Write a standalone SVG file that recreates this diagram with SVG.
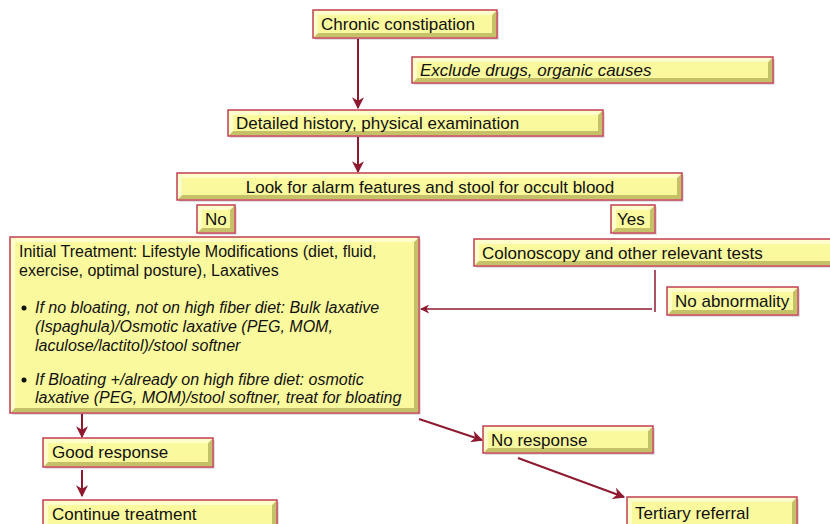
<svg xmlns="http://www.w3.org/2000/svg" width="830" height="524" viewBox="0 0 830 524">
<defs>
<style>
.sh{fill:#000;opacity:0.12}
.bx{fill:#fbf99e;stroke:#c23e58;stroke-width:1.5}
.bv{fill:#b3ae55;opacity:0.75}
.hl{fill:#ffffd8;opacity:0.8}
.t{font-family:"Liberation Sans",Arial,sans-serif;font-size:17px;fill:#111}
.s{font-size:16px}
.i{font-style:italic}
.c{stroke:#8e1a30;stroke-width:2;fill:none}
</style>
<marker id="ah" viewBox="0 0 10 10" refX="9" refY="5" markerWidth="6" markerHeight="6" orient="auto" markerUnits="strokeWidth">
<path d="M0,0 L10,5 L0,10 L3,5 Z" fill="#8e1a30"/>
</marker>
</defs>
<rect width="830" height="524" fill="#fff"/>

<g id="connectors">
<line class="c" x1="358" y1="39" x2="358" y2="108" marker-end="url(#ah)"/>
<line class="c" x1="358" y1="137" x2="358" y2="172" marker-end="url(#ah)"/>
<line class="c" x1="655" y1="270" x2="655" y2="312" style="stroke-width:1.5"/>
<line class="c" x1="652" y1="309" x2="421" y2="309" style="stroke-width:1.5" marker-end="url(#ah)"/>
<line class="c" x1="82" y1="414" x2="82" y2="437" marker-end="url(#ah)"/>
<line class="c" x1="82" y1="470" x2="82" y2="496" marker-end="url(#ah)"/>
<line class="c" x1="419" y1="419" x2="482" y2="440" marker-end="url(#ah)"/>
<line class="c" x1="518" y1="458" x2="624" y2="497" marker-end="url(#ah)"/>
</g>

<g id="n1">
<rect class="sh" x="315" y="12" width="184" height="28"/>
<rect class="bx" x="313" y="10" width="184" height="28"/>
<polygon class="bv" points="496,11 496,37 314,37 318,33 492,33 492,15"/>
<polygon class="hl" points="314,11 496,11 492,15 318,15 318,33 314,37"/>
<text class="t" x="321" y="30">Chronic constipation</text>
</g>

<g id="n2">
<rect class="sh" x="414" y="59" width="361" height="26"/>
<rect class="bx" x="412" y="57" width="361" height="26"/>
<polygon class="bv" points="772,58 772,82 413,82 417,78 768,78 768,62"/>
<polygon class="hl" points="413,58 772,58 768,62 417,62 417,78 413,82"/>
<text class="t i" x="420" y="76">Exclude drugs, organic causes</text>
</g>

<g id="n3">
<rect class="sh" x="230" y="112" width="375" height="26"/>
<rect class="bx" x="228" y="110" width="375" height="26"/>
<polygon class="bv" points="602,111 602,135 229,135 233,131 598,131 598,115"/>
<polygon class="hl" points="229,111 602,111 598,115 233,115 233,131 229,135"/>
<text class="t" x="236" y="129">Detailed history, physical examination</text>
</g>

<g id="n4">
<rect class="sh" x="179" y="175" width="505" height="27"/>
<rect class="bx" x="177" y="173" width="505" height="27"/>
<polygon class="bv" points="681,174 681,199 178,199 182,195 677,195 677,178"/>
<polygon class="hl" points="178,174 681,174 677,178 182,178 182,195 178,199"/>
<text class="t" x="430" y="193" text-anchor="middle">Look for alarm features and stool for occult blood</text>
</g>

<g id="n5">
<rect class="sh" x="199" y="207" width="38" height="28"/>
<rect class="bx" x="197" y="205" width="38" height="28"/>
<polygon class="bv" points="234,206 234,232 198,232 202,228 230,228 230,210"/>
<polygon class="hl" points="198,206 234,206 230,210 202,210 202,228 198,232"/>
<text class="t" x="205" y="225">No</text>
</g>

<g id="n6">
<rect class="sh" x="613" y="207" width="44" height="28"/>
<rect class="bx" x="611" y="205" width="44" height="28"/>
<polygon class="bv" points="654,206 654,232 612,232 616,228 650,228 650,210"/>
<polygon class="hl" points="612,206 654,206 650,210 616,210 616,228 612,232"/>
<text class="t" x="617" y="225">Yes</text>
</g>

<g id="n7">
<rect class="sh" x="12" y="239" width="409" height="176"/>
<rect class="bx" x="10" y="237" width="409" height="176"/>
<polygon class="bv" points="418,238 418,412 11,412 15,408 414,408 414,242"/>
<polygon class="hl" points="11,238 418,238 414,242 15,242 15,408 11,412"/>
<text class="t s" x="19" y="257">Initial Treatment: Lifestyle Modifications (diet, fluid,</text>
<text class="t s" x="19" y="276">exercise, optimal posture), Laxatives</text>
<circle cx="24" cy="308" r="2.5" fill="#111"/>
<text class="t s i" x="35" y="313">If no bloating, not on high fiber diet: Bulk laxative</text>
<text class="t s i" x="35" y="332">(Ispaghula)/Osmotic laxative (PEG, MOM,</text>
<text class="t s i" x="35" y="351">laculose/lactitol)/stool softner</text>
<circle cx="24" cy="380" r="2.5" fill="#111"/>
<text class="t s i" x="35" y="385">If Bloating +/already on high fibre diet: osmotic</text>
<text class="t s i" x="35" y="403">laxative (PEG, MOM)/stool softner, treat for bloating</text>
</g>

<g id="n8">
<rect class="sh" x="476" y="241" width="360" height="27"/>
<rect class="bx" x="474" y="239" width="360" height="27"/>
<polygon class="hl" points="475,240 833,240 833,244 479,244 479,261 475,265"/>
<polygon class="bv" points="475,265 479,261 833,261 833,265"/>
<text class="t" x="482" y="259">Colonoscopy and other relevant tests</text>
</g>

<g id="n9">
<rect class="sh" x="669" y="289" width="131" height="28"/>
<rect class="bx" x="667" y="287" width="131" height="28"/>
<polygon class="bv" points="797,288 797,314 668,314 672,310 793,310 793,292"/>
<polygon class="hl" points="668,288 797,288 793,292 672,292 672,310 668,314"/>
<text class="t" x="675" y="307">No abnormality</text>
</g>

<g id="n10">
<rect class="sh" x="45" y="440" width="170" height="29"/>
<rect class="bx" x="43" y="438" width="170" height="29"/>
<polygon class="bv" points="212,439 212,466 44,466 48,462 208,462 208,443"/>
<polygon class="hl" points="44,439 212,439 208,443 48,443 48,462 44,466"/>
<text class="t" x="52" y="458">Good response</text>
</g>

<g id="n11">
<rect class="sh" x="485" y="428" width="170" height="27"/>
<rect class="bx" x="483" y="426" width="170" height="27"/>
<polygon class="bv" points="652,427 652,452 484,452 488,448 648,448 648,431"/>
<polygon class="hl" points="484,427 652,427 648,431 488,431 488,448 484,452"/>
<text class="t" x="491" y="446">No response</text>
</g>

<g id="n12">
<rect class="sh" x="45" y="502" width="234" height="30"/>
<rect class="bx" x="43" y="500" width="234" height="30"/>
<polygon class="bv" points="276,501 276,529 272,529 272,505"/>
<polygon class="hl" points="44,501 276,501 272,505 48,505 48,529 44,529"/>
<text class="t" x="52" y="520">Continue treatment</text>
</g>

<g id="n13">
<rect class="sh" x="629" y="499" width="170" height="30"/>
<rect class="bx" x="627" y="497" width="170" height="30"/>
<polygon class="bv" points="796,498 796,529 792,529 792,502"/>
<polygon class="hl" points="628,498 796,498 792,502 632,502 632,529 628,529"/>
<text class="t" x="635" y="519">Tertiary referral</text>
</g>
</svg>
